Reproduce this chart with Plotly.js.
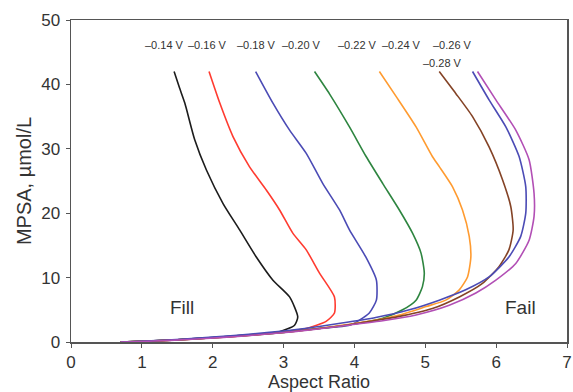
<!DOCTYPE html>
<html>
<head>
<meta charset="utf-8">
<script src="https://cdn.plot.ly/plotly-3.0.1.min.js"></script>
<style>html,body{margin:0;padding:0;background:#fff;}#chart{width:573px;height:392px;}</style>
</head>
<body>
<div id="chart"></div>
<script>
// Series labels (applied potential)
const seriesNames = ["\u20130.14 V","\u20130.16 V","\u20130.18 V","\u20130.20 V","\u20130.22 V","\u20130.24 V","\u20130.26 V","\u20130.28 V"];
const seriesColors = ["#1c1c1c","#ff3b30","#4b4bb5","#2e8540","#ff9b30","#844326","#4b4bb5","#b24fb5"];

// Aspect ratio (x) and MPSA concentration (y) for each curve
const x014 = [1.455,1.53,1.606,1.746,1.911,2.146,2.38,2.615,2.85,3.085,3.20,3.155,2.94,2.5,2.0,1.5,1.0,0.7];
const y014 = [42,39.5,37.1,31.4,26.7,21.5,17.4,13.2,9.6,7.0,3.9,2.6,1.6,1.1,0.7,0.35,0.12,0];

const x016 = [1.948,2.10,2.286,2.52,2.756,2.944,3.13,3.32,3.507,3.718,3.718,3.60,3.32,3.0,2.5,2.0,1.5,1.0,0.7];
const y016 = [42,37.1,31.9,27.2,23.6,20.5,16.9,14.3,10.7,7.0,4.5,3.2,2.1,1.6,1.05,0.65,0.33,0.1,0];

const x018 = [2.606,2.85,3.085,3.32,3.554,3.79,3.93,4.16,4.31,4.31,4.21,4.07,3.93,3.5,3.0,2.5,2.0,1.5,1.0,0.7];
const y018 = [42,37.1,32.9,29.3,24.6,20.5,17.4,13.2,9.6,6.5,4.5,3.4,2.6,2.1,1.55,1.1,0.7,0.35,0.12,0];

const x020 = [3.437,3.65,3.93,4.165,4.40,4.634,4.82,4.94,4.986,4.96,4.87,4.68,4.40,4.0,3.5,3.0,2.5,2.0,1.5,1.0,0.7];
const y020 = [42,38.5,33.4,28.8,24.6,20.5,16.9,13.8,10.7,8.6,6.5,5.0,3.7,2.8,2.1,1.5,1.05,0.65,0.33,0.1,0];

const x022 = [4.352,4.59,4.87,5.10,5.20,5.385,5.525,5.62,5.643,5.596,5.48,5.29,5.01,4.634,4.2,3.7,3.2,2.7,2.2,1.7,1.2,0.7];
const y022 = [42,38.1,33.4,28.8,27.2,24.1,20.5,16.4,13.2,10.1,8.1,6.5,5.5,4.2,3.2,2.4,1.7,1.2,0.8,0.45,0.18,0];

const x024 = [5.197,5.43,5.667,5.90,6.09,6.207,6.24,6.18,6.04,5.807,5.48,5.10,4.6,4.1,3.6,3.1,2.6,2.1,1.6,1.1,0.7];
const y024 = [42,38.6,35.0,30.3,25.2,21.0,17.4,14.3,11.7,9.1,7.0,5.2,3.9,3.0,2.2,1.6,1.1,0.7,0.38,0.12,0];

const x026 = [5.667,5.90,6.137,6.324,6.418,6.418,6.347,6.18,5.90,5.57,5.197,4.775,4.3,3.8,3.3,2.8,2.3,1.8,1.3,0.7];
const y026 = [42,37.6,33.4,28.8,24.1,20.0,16.4,13.2,10.1,8.1,6.5,5.0,3.8,2.9,2.1,1.5,1.0,0.6,0.28,0];

const x028 = [5.737,5.996,6.277,6.465,6.535,6.535,6.465,6.277,5.996,5.714,5.338,4.87,4.4,3.9,3.4,2.9,2.4,1.9,1.4,0.9,0.7];
const y028 = [42,37.6,32.9,28.3,23.1,19.5,15.8,12.2,9.6,7.6,5.7,4.2,3.3,2.6,1.9,1.35,0.9,0.55,0.25,0.05,0];

const xs = [x014,x016,x018,x020,x022,x024,x026,x028];
const ys = [y014,y016,y018,y020,y022,y024,y026,y028];

// Label anchor positions (data coords)
const labelX = [1.32,1.93,2.62,3.25,4.04,4.66,5.38,5.24];
const labelY = [46.1,46.1,46.1,46.1,46.1,46.1,46.1,43.3];

const regionText = ["Fill","Fail"];
const regionX = [1.56,6.34];
const regionY = [5.3,5.3];

const xTitle = "Aspect Ratio";
const yTitle = "MPSA, \u00b5mol/L";

const traces = xs.map((x,i)=>({
  x: x, y: ys[i], type:'scatter', mode:'lines', name: seriesNames[i],
  line:{color: seriesColors[i], width:1.6, shape:'spline', smoothing:0.6}
}));

const FONT = '"Liberation Sans", Arial, sans-serif';

const annotations = seriesNames.map((t,i)=>({
  x: labelX[i], y: labelY[i], xref:'x', yref:'y', text:t, showarrow:false,
  font:{family:FONT, size:11, color:'#333'}
})).concat(regionText.map((t,i)=>({
  x: regionX[i], y: regionY[i], xref:'x', yref:'y', text:t, showarrow:false,
  font:{family:FONT, size:19, color:'#333'}
}))).concat([{
  x: 0.5, y: -0.09, xref:'paper', yref:'paper', xanchor:'center', yanchor:'top',
  text: xTitle, showarrow:false, borderpad:0,
  font:{family:FONT, size:18, color:'#333'}
}]);

const axisCommon = {
  showline:true, linecolor:'#555', linewidth:1.5, mirror:true,
  showgrid:false, zeroline:false, ticks:'outside', ticklen:4, tickcolor:'#555', tickwidth:1,
  tickfont:{family:FONT, size:17, color:'#333'}
};

const layout = {
  width:573, height:392,
  margin:{l:71, r:6, t:20, b:50},
  paper_bgcolor:'#fff', plot_bgcolor:'#fff',
  showlegend:false,
  xaxis: Object.assign({}, axisCommon, {
    range:[0,7], tickvals:[0,1,2,3,4,5,6,7], ticklabelstandoff:0
  }),
  yaxis: Object.assign({}, axisCommon, {
    range:[0,50], tickvals:[0,10,20,30,40,50], ticklabelstandoff:2,
    title:{text:yTitle, standoff:4, font:{family:FONT, size:20, color:'#333'}}
  }),
  annotations: annotations
};

Plotly.newPlot('chart', traces, layout, {displayModeBar:false, staticPlot:true});
</script>
</body>
</html>
